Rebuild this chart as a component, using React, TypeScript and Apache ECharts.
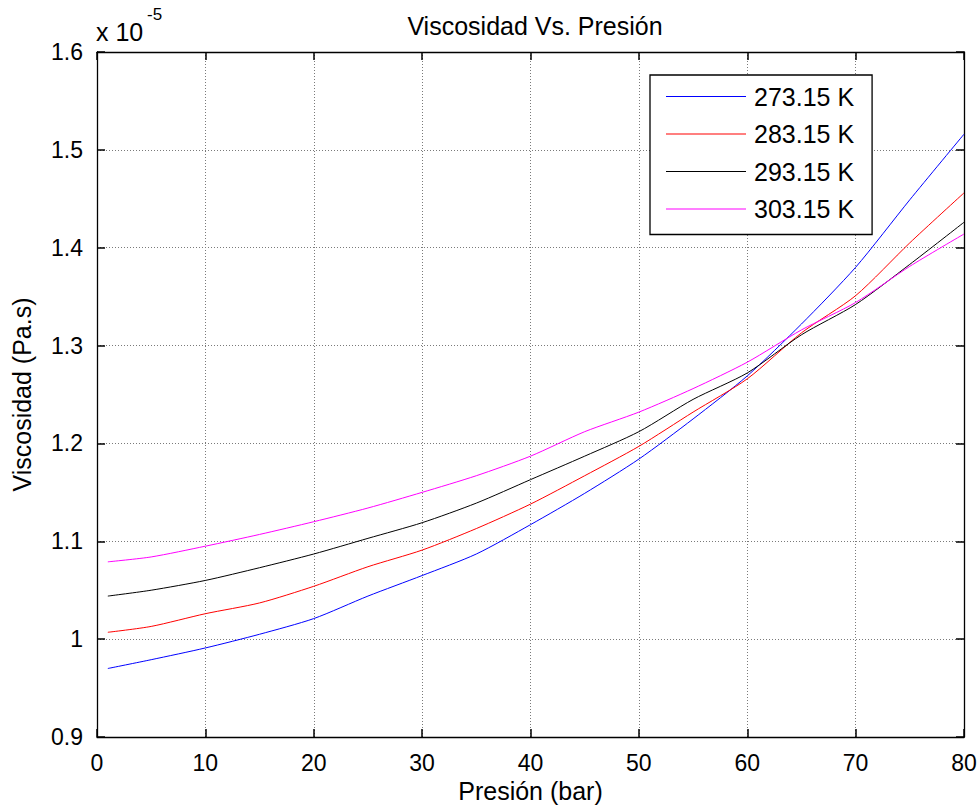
import React, { useEffect, useRef } from "react";
import * as echarts from "echarts";

// Presión (bar)
const pressure = [1, 5, 10, 15, 20, 25, 30, 35, 40, 45, 50, 55, 60, 65, 70, 75, 80];
// Viscosidad (x 1e-5 Pa.s)
const visc273 = [0.970, 0.979, 0.991, 1.005, 1.021, 1.044, 1.065, 1.087, 1.117, 1.149, 1.184, 1.225, 1.269, 1.322, 1.380, 1.449, 1.516];
const visc283 = [1.007, 1.013, 1.026, 1.037, 1.054, 1.074, 1.091, 1.113, 1.138, 1.167, 1.197, 1.232, 1.266, 1.313, 1.351, 1.405, 1.456];
const visc293 = [1.044, 1.050, 1.060, 1.073, 1.087, 1.103, 1.119, 1.139, 1.163, 1.187, 1.212, 1.245, 1.272, 1.311, 1.342, 1.383, 1.426];
const visc303 = [1.079, 1.084, 1.095, 1.107, 1.120, 1.134, 1.150, 1.167, 1.187, 1.212, 1.232, 1.256, 1.283, 1.316, 1.344, 1.381, 1.414];

const seriesNames = ["273.15 K", "283.15 K", "293.15 K", "303.15 K"];
const seriesColors = ["#0000ff", "#ff0000", "#000000", "#ff00ff"];
const seriesValues = [visc273, visc283, visc293, visc303];

const FONT = "'Liberation Sans', Arial, Helvetica, sans-serif";

export default function App() {
  const ref = useRef<HTMLDivElement>(null);

  useEffect(() => {
    document.body.style.margin = "0";
    if (!ref.current) return;
    const chart = echarts.init(ref.current, undefined, { renderer: "svg" });

    const axisCommon = {
      axisLine: { show: true, onZero: false, lineStyle: { color: "#000", width: 1.3 } },
      axisTick: { show: true, inside: true, length: 8, lineStyle: { color: "#000", width: 1.5 } },
    };
    const gridLine = { show: true, lineStyle: { color: "#7a7a7a", type: [1, 2], width: 1 } };

    chart.setOption({
      animation: false,
      backgroundColor: "#fff",
      textStyle: { fontFamily: FONT },
      title: {
        text: "Viscosidad Vs. Presión",
        left: 530,
        textAlign: "center",
        top: 8,
        textStyle: { fontFamily: FONT, fontSize: 25, fontWeight: "normal", color: "#000" },
      },
      grid: { left: 97, right: 16, top: 52, bottom: 73, containLabel: false },
      legend: {
        orient: "vertical",
        left: 650,
        top: 75,
        icon: "rect",
        itemWidth: 80,
        itemHeight: 1,
        itemGap: 12.5,
        padding: [9, 18, 13, 16],
        borderColor: "#000",
        borderWidth: 1.3,
        backgroundColor: "#fff",
        textStyle: { fontFamily: FONT, fontSize: 25, color: "#000", padding: [0, 0, 0, 3] },
        data: seriesNames,
      },
      xAxis: [
        {
          type: "value",
          min: 0,
          max: 80,
          interval: 10,
          name: "Presión (bar)",
          nameLocation: "middle",
          nameGap: 38,
          nameTextStyle: { fontFamily: FONT, fontSize: 25, color: "#000" },
          ...axisCommon,
          axisLabel: { fontFamily: FONT, fontSize: 23, color: "#000", margin: 14 },
          splitLine: gridLine,
        },
        {
          type: "value",
          position: "top",
          min: 0,
          max: 80,
          interval: 10,
          ...axisCommon,
          axisLabel: { show: false },
          splitLine: { show: false },
        },
      ],
      yAxis: [
        {
          type: "value",
          min: 0.9,
          max: 1.6,
          interval: 0.1,
          name: "Viscosidad (Pa.s)",
          nameLocation: "middle",
          nameGap: 63,
          nameTextStyle: { fontFamily: FONT, fontSize: 25, color: "#000" },
          ...axisCommon,
          axisLabel: {
            fontFamily: FONT,
            fontSize: 23,
            color: "#000",
            margin: 14,
            formatter: (v: number) => String(Math.round(v * 10) / 10),
          },
          splitLine: gridLine,
        },
        {
          type: "value",
          position: "right",
          min: 0.9,
          max: 1.6,
          interval: 0.1,
          ...axisCommon,
          axisLabel: { show: false },
          splitLine: { show: false },
        },
      ],
      graphic: [
        {
          type: "text",
          left: 96,
          top: 19,
          style: { text: "x 10", fontFamily: FONT, fontSize: 25, fill: "#000" },
        },
        {
          type: "text",
          left: 147,
          top: 6,
          style: { text: "-5", fontFamily: FONT, fontSize: 17, fill: "#000" },
        },
      ],
      series: seriesNames.map((name, i) => ({
        name,
        type: "line",
        xAxisIndex: 0,
        yAxisIndex: 0,
        symbol: "none",
        smooth: 0.25,
        lineStyle: { color: seriesColors[i], width: 1 },
        itemStyle: { color: seriesColors[i] },
        data: pressure.map((p, j) => [p, seriesValues[i][j]]),
      })),
    });

    return () => chart.dispose();
  }, []);

  return <div ref={ref} style={{ width: 980, height: 810 }} />;
}
